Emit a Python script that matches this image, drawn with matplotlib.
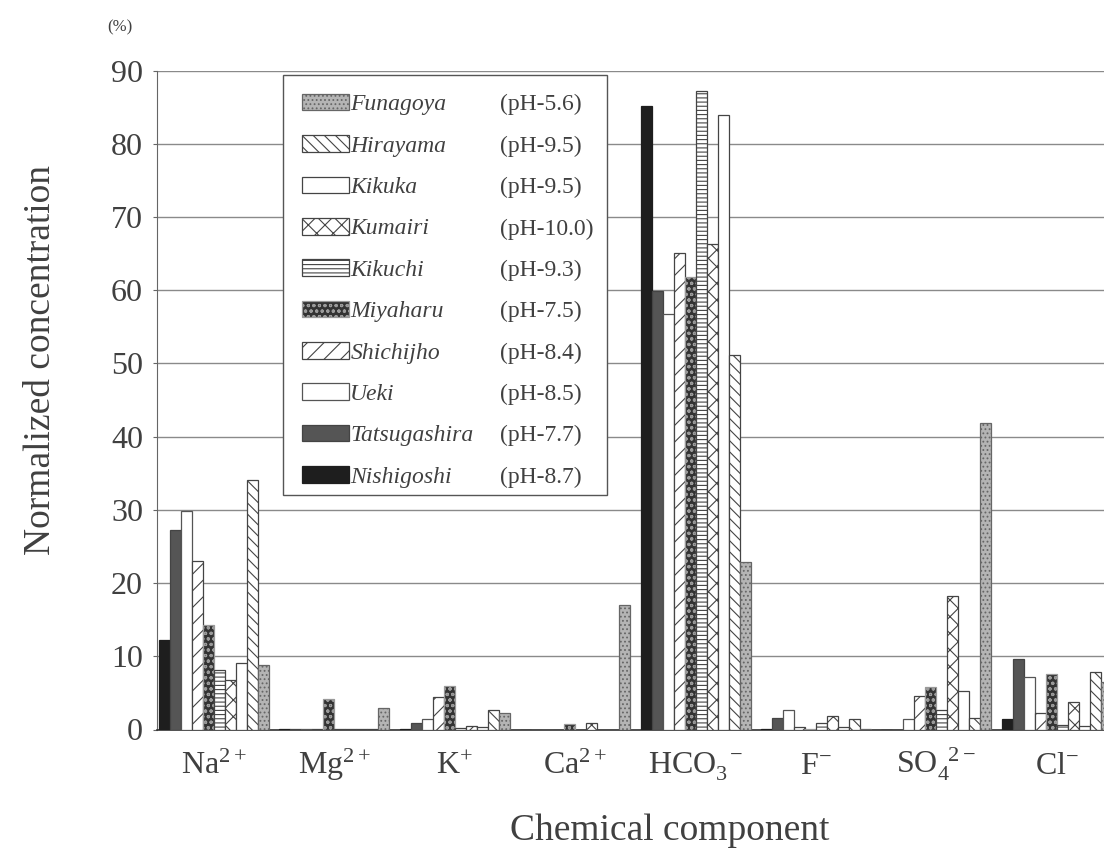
import matplotlib
matplotlib.use('Agg')
import matplotlib.pyplot as plt
import numpy as np
from matplotlib.patches import Rectangle

plt.rcParams['font.family'] = ['Liberation Serif', 'DejaVu Serif']
plt.rcParams['mathtext.fontset'] = 'custom'
plt.rcParams['mathtext.rm'] = 'Liberation Serif'
plt.rcParams['mathtext.it'] = 'Liberation Serif:italic'
plt.rcParams['mathtext.bf'] = 'Liberation Serif:bold'
plt.rcParams['hatch.linewidth'] = 0.8

TXT = '#404040'

# ---------------- data ----------------
components = [r'$\mathrm{Na}^{2+}$', r'$\mathrm{Mg}^{2+}$', r'$\mathrm{K}^{+}$',
              r'$\mathrm{Ca}^{2+}$', r'$\mathrm{HCO}_{3}^{\ \ -}$', r'$\mathrm{F}^{-}$',
              r'$\mathrm{SO}_{4}^{\ \ 2-}$', r'$\mathrm{Cl}^{-}$']

# legend order
sites = ['Funagoya', 'Hirayama', 'Kikuka', 'Kumairi', 'Kikuchi',
         'Miyaharu', 'Shichijho', 'Ueki', 'Tatsugashira', 'Nishigoshi']
ph_labels = ['(pH-5.6)', '(pH-9.5)', '(pH-9.5)', '(pH-10.0)', '(pH-9.3)',
             '(pH-7.5)', '(pH-8.4)', '(pH-8.5)', '(pH-7.7)', '(pH-8.7)']

# values per site: Na, Mg, K, Ca, HCO3, F, SO4, Cl  (%)
funagoya     = [8.8, 2.9, 2.3, 17.0, 22.9, 0.1, 41.9, 6.5]
hirayama     = [34.1, 0.1, 2.6, 0.0, 51.2, 1.4, 1.6, 7.9]
kikuka       = [9.1, 0.1, 0.3, 0.0, 83.9, 0.3, 5.2, 0.5]
kumairi      = [6.8, 0.1, 0.5, 0.9, 66.3, 1.8, 18.2, 3.7]
kikuchi      = [8.1, 0.1, 0.2, 0.0, 87.2, 0.9, 2.7, 0.6]
miyaharu     = [14.3, 4.2, 5.9, 0.8, 61.8, 0.1, 5.8, 7.6]
shichijho    = [23.0, 0.1, 4.4, 0.0, 65.1, 0.3, 4.6, 2.3]
ueki         = [29.9, 0.1, 1.4, 0.0, 56.7, 2.6, 1.4, 7.2]
tatsugashira = [27.3, 0.1, 0.9, 0.0, 59.9, 1.6, 0.0, 9.6]
nishigoshi   = [12.2, 0.1, 0.1, 0.0, 85.2, 0.1, 0.0, 1.4]

values = [funagoya, hirayama, kikuka, kumairi, kikuchi,
          miyaharu, shichijho, ueki, tatsugashira, nishigoshi]

yticks = [0, 10, 20, 30, 40, 50, 60, 70, 80, 90]

# ---------------- styles (legend order) ----------------
styles = [
    dict(facecolor='#b4b4b4', edgecolor='#666666', hatch='....'),   # Funagoya
    dict(facecolor='white',   edgecolor='#444444', hatch='\\\\\\'),  # Hirayama
    dict(facecolor='white',   edgecolor='#444444', hatch=None),      # Kikuka
    dict(facecolor='white',   edgecolor='#444444', hatch='xx'),      # Kumairi
    dict(facecolor='white',   edgecolor='#444444', hatch='----'),    # Kikuchi
    dict(facecolor='#333333', edgecolor='#9a9a9a', hatch='ooo'),     # Miyaharu
    dict(facecolor='white',   edgecolor='#444444', hatch='//'),      # Shichijho
    dict(facecolor='white',   edgecolor='#555555', hatch=None),      # Ueki
    dict(facecolor='#555555', edgecolor='#444444', hatch=None),      # Tatsugashira
    dict(facecolor='#1e1e1e', edgecolor='#1e1e1e', hatch=None),      # Nishigoshi
]

# ---------------- figure ----------------
W, H = 1104, 852
fig = plt.figure(figsize=(W / 100, H / 100), dpi=100)
ax_left, ax_right = 157, 1230
ax_top, ax_bot = 70.7, 729.5
ax = fig.add_axes([ax_left / W, 1 - ax_bot / H, (ax_right - ax_left) / W, (ax_bot - ax_top) / H])

spacing = 120.4
bw = 11 / spacing
n = len(sites)
x = np.arange(len(components))
bar_order = list(range(n))[::-1]  # Nishigoshi first
handles = [None] * n
for pos, k in enumerate(bar_order):
    st = styles[k]
    offs = -n * bw / 2 + (pos + 0.5) * bw
    b = ax.bar(x + offs, values[k], width=bw, facecolor=st['facecolor'],
               edgecolor=st['edgecolor'], hatch=st['hatch'], linewidth=0.9,
               label=sites[k], zorder=3)
    handles[k] = b

ax.set_xlim((ax_left - 214) / spacing, (ax_right - 214) / spacing)
ax.set_ylim(0, 90)
ax.set_yticks(yticks)
ax.set_yticklabels([str(v) for v in yticks])
ax.set_xticks(x)
ax.set_xticklabels(components)
for lbl in ax.get_xticklabels():
    lbl.set_verticalalignment('baseline')
ax.yaxis.grid(True, color='#8a8a8a', linewidth=1.0, zorder=0)
ax.set_axisbelow(True)
for s in ['top', 'right']:
    ax.spines[s].set_visible(False)
ax.spines['left'].set_color('#666666')
ax.spines['bottom'].set_color('#333333')
ax.spines['bottom'].set_linewidth(1.2)
ax.tick_params(axis='y', length=3, pad=7, labelsize=23, colors='#666666', labelcolor=TXT)
ax.tick_params(axis='x', length=0, pad=32, labelsize=23, labelcolor=TXT)

ax.set_ylabel('Normalized concentration', fontsize=27, color=TXT)
ax.yaxis.set_label_coords((58 - ax_left) / (ax_right - ax_left), (729.5 - 360) / (ax_bot - ax_top))
ax.set_xlabel('Chemical component', fontsize=27, color=TXT)
ax.xaxis.set_label_coords((670 - ax_left) / (ax_right - ax_left), -(814 - ax_bot) / (ax_bot - ax_top))

fig.text(120 / W, 1 - 27 / H, '(%)', fontsize=12, color=TXT, ha='center', va='center')

leg = ax.legend(handles=handles, labels=sites, loc='upper left',
                bbox_to_anchor=(283 / W, 1 - 495 / H, 324 / W, (495 - 75) / H),
                bbox_transform=fig.transFigure, mode='expand', borderaxespad=0,
                prop={'style': 'italic', 'size': 17}, frameon=False,
                handlelength=2.0, handleheight=0.7, handletextpad=0.05,
                labelspacing=0.84, borderpad=0.8)
for t in leg.get_texts():
    t.set_color(TXT)
leg.set_zorder(6)

# legend frame (drawn inside the axes, beneath the legend entries)
frame = Rectangle((283 / W, 1 - 495 / H), 324 / W, (495 - 75) / H,
                  transform=fig.transFigure, fill=True, facecolor='white',
                  edgecolor='#555555', linewidth=1.0, zorder=5, clip_on=False)
ax.add_patch(frame)

fig.canvas.draw()
renderer = fig.canvas.get_renderer()
for t, p in zip(leg.get_texts(), ph_labels):
    bb = t.get_window_extent(renderer)
    fig.text(500 / W, bb.y0 / fig.bbox.height, p, fontsize=17, color=TXT,
             ha='left', va='bottom', zorder=10)

fig.savefig('out.png', dpi=100, facecolor='white')
